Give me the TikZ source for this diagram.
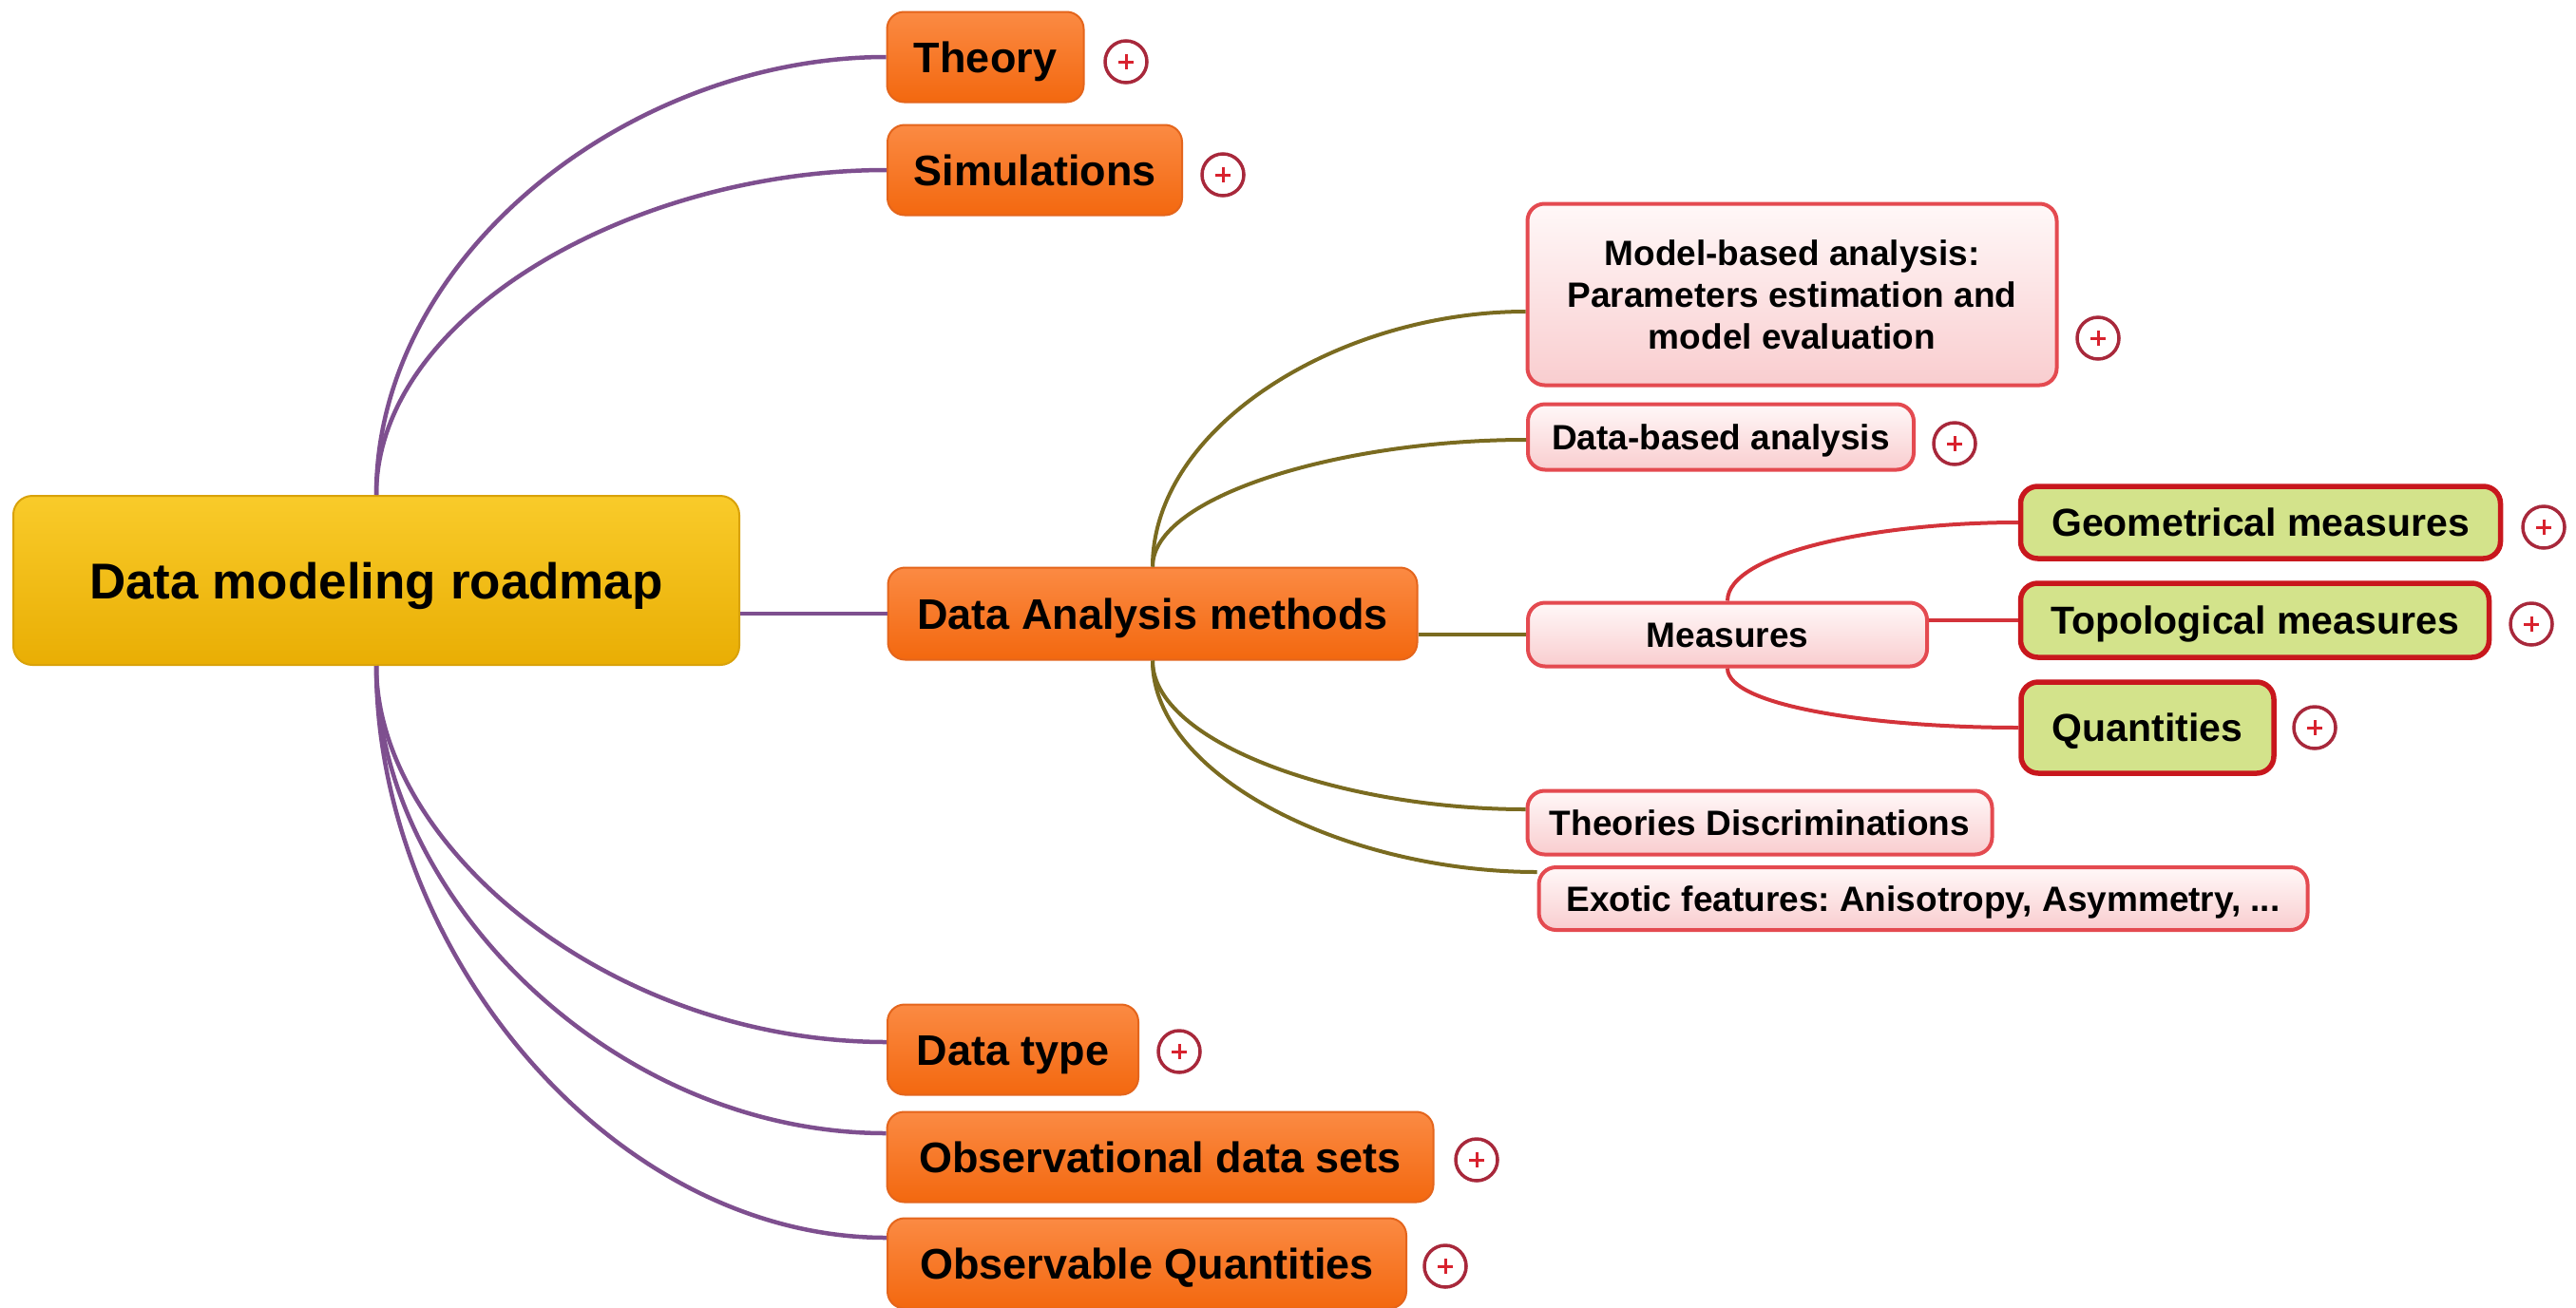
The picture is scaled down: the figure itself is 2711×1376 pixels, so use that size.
\documentclass[tikz,border=0pt]{standalone}
\usepackage{fontspec}
\setmainfont{Liberation Sans}
\usetikzlibrary{calc}
\frenchspacing

\definecolor{rootTop}{HTML}{F9CB2A}
\definecolor{rootBot}{HTML}{E9AE04}
\definecolor{rootLine}{HTML}{D9A20A}
\definecolor{orgTop}{HTML}{FB8A43}
\definecolor{orgBot}{HTML}{F3680F}
\definecolor{orgLine}{HTML}{E4651C}
\definecolor{pinkTop}{HTML}{FFF8F8}
\definecolor{pinkBot}{HTML}{F9CDCF}
\definecolor{pinkLine}{HTML}{E44A50}
\definecolor{boxLime}{HTML}{D3E38B}
\definecolor{limeLine}{HTML}{C8171D}
\definecolor{linkPlum}{HTML}{7E4F8F}
\definecolor{linkOlive}{HTML}{7A6B20}
\definecolor{linkRed}{HTML}{D3333A}
\definecolor{iconRing}{HTML}{A8283B}
\definecolor{iconPlus}{HTML}{D8222E}

\tikzset{
  rootbox/.style={rounded corners=20pt, draw=rootLine, line width=2pt,
    top color=rootTop, bottom color=rootBot, text=black, inner sep=0pt,
    font=\fontsize{53}{60}\selectfont\bfseries, text height=38pt, text depth=0pt},
  topicbox/.style={rounded corners=18pt, draw=orgLine, line width=2pt,
    top color=orgTop, bottom color=orgBot, text=black, inner sep=0pt,
    minimum height=95pt,
    font=\fontsize{45}{52}\selectfont\bfseries, text height=32pt, text depth=0pt},
  subbox/.style={rounded corners=18pt, draw=pinkLine, line width=4pt,
    top color=pinkTop, bottom color=pinkBot, text=black, inner sep=0pt,
    align=center, font=\fontsize{37}{44}\selectfont\bfseries},
  oneline/.style={text height=26.5pt, text depth=0pt},
  leafbox/.style={rounded corners=18pt, draw=limeLine, line width=5.5pt,
    fill=boxLime, text=black, inner sep=0pt,
    font=\fontsize{41}{48}\selectfont\bfseries, text height=29.5pt, text depth=0pt},
  expander/.style={circle, draw=iconRing, line width=3.5pt, fill=white,
    minimum size=44pt, inner sep=0pt,
    path picture={\draw[iconPlus, line width=3pt]
      ($(path picture bounding box.center)+(-8,0)$) -- +(16,0)
      ($(path picture bounding box.center)+(0,-8)$) -- +(0,16);}},
  plumlink/.style={draw=linkPlum, line width=4.5pt},
  olivelink/.style={draw=linkOlive, line width=4pt},
  redlink/.style={draw=linkRed, line width=4pt},
}

\begin{document}
\begin{tikzpicture}[x=1pt, y=-1pt]
  \fill[white] (0,0) rectangle (2711,1376);
  \useasboundingbox (0,0) rectangle (2711,1376);

  % central topic
  \node[rootbox, minimum width=764pt, minimum height=178pt] (root) at (396,611) {Data modeling roadmap};

  % main branches
  \node[topicbox, minimum width=207pt] (theory) at (1037,60) {Theory};
  \node[topicbox, minimum width=310pt] (sims) at (1089,179) {Simulations};
  \node[topicbox, minimum width=557pt, minimum height=97pt] (dam) at (1213,646) {Data Analysis methods};
  \node[topicbox, minimum width=264pt] (dtype) at (1066,1105) {Data type};
  \node[topicbox, minimum width=575pt] (obsd) at (1221,1218) {Observational data sets};
  \node[topicbox, minimum width=546pt] (obsq) at (1207,1330) {Observable Quantities};

  % analysis methods
  \node[subbox, minimum width=557pt, minimum height=191pt] (model) at (1886,310)
    {Model-based analysis:\\Parameters estimation and\\model evaluation};
  \node[subbox, oneline, minimum width=406pt, minimum height=69pt] (datab) at (1811,460) {Data-based analysis};
  \node[subbox, oneline, minimum width=420pt, minimum height=67pt] (meas) at (1818,668) {Measures};
  \node[subbox, oneline, minimum width=489pt, minimum height=67pt] (theo) at (1852,866) {Theories Discriminations};
  \node[subbox, oneline, minimum width=809pt, minimum height=66pt] (exotic) at (2024,946) {Exotic features: Anisotropy, Asymmetry, ...};

  % measures
  \node[leafbox, minimum width=505pt, minimum height=76pt] (geo) at (2379,550) {Geometrical measures};
  \node[leafbox, minimum width=493pt, minimum height=78pt] (topo) at (2373,653) {Topological measures};
  \node[leafbox, minimum width=266pt, minimum height=96pt] (quant) at (2260,766) {Quantities};

  % expand markers
  \node[expander] (xtheory) at (1185,65) {};
  \node[expander] (xsims) at (1287,184) {};
  \node[expander] (xdtype) at (1241,1107) {};
  \node[expander] (xobsd) at (1554,1221) {};
  \node[expander] (xobsq) at (1521,1333) {};
  \node[expander] (xmodel) at (2208,356) {};
  \node[expander] (xdatab) at (2057,467) {};
  \node[expander] (xgeo) at (2677,555) {};
  \node[expander] (xtopo) at (2664,657) {};
  \node[expander] (xquant) at (2436,766) {};

  % links from the central topic
  \draw[plumlink] (root.north) .. controls +(0,-254) and +(-267,0) .. (theory.west);
  \draw[plumlink] (root.north) .. controls +(0,-189) and +(-267,0) .. (sims.west);
  \draw[plumlink] (root.east |- dam.west) -- (dam.west);
  \draw[plumlink] (root.south) .. controls +(0,190) and +(-290,0) .. ([yshift=8pt]dtype.west);
  \draw[plumlink] (root.south) .. controls +(0,240) and +(-290,0) .. ([yshift=25pt]obsd.west);
  \draw[plumlink] (root.south) .. controls +(0,300) and +(-290,0) .. ([yshift=27pt]obsq.west);

  % links from the analysis methods
  \draw[olivelink] (dam.north) .. controls +(0,-148) and +(-195,0) .. ([yshift=-18pt]model.west);
  \draw[olivelink] (dam.north) .. controls +(0,-74) and +(-195,0) .. ([yshift=-3pt]datab.west);
  \draw[olivelink] (dam.east |- meas.west) -- (meas.west);
  \draw[olivelink] (dam.south) .. controls +(0,86) and +(-195,0) .. ([yshift=14pt]theo.west);
  \draw[olivelink] (dam.south) .. controls +(0,122) and +(-200,0) .. ([yshift=28pt]exotic.west);

  % links from measures
  \draw[redlink] (meas.north) .. controls +(0,-50) and +(-150,0) .. (geo.west);
  \draw[redlink] (meas.east |- topo.west) -- (topo.west);
  \draw[redlink] (meas.south) .. controls +(0,40) and +(-150,0) .. (quant.west);
\end{tikzpicture}
\end{document}
